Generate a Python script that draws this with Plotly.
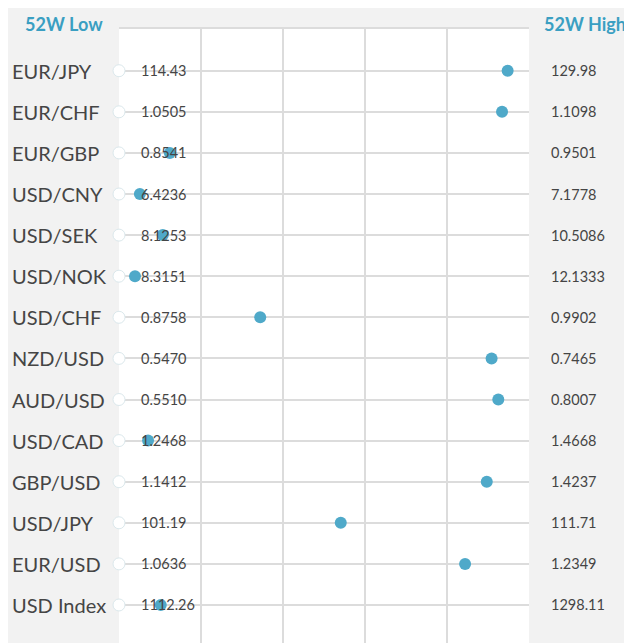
import plotly.graph_objects as go

pairs = ["EUR/JPY", "EUR/CHF", "EUR/GBP", "USD/CNY", "USD/SEK", "USD/NOK", "USD/CHF",
         "NZD/USD", "AUD/USD", "USD/CAD", "GBP/USD", "USD/JPY", "EUR/USD", "USD Index"]
low_52w = [114.43, 1.0505, 0.8541, 6.4236, 8.1253, 8.3151, 0.8758,
           0.5470, 0.5510, 1.2468, 1.1412, 101.19, 1.0636, 1112.26]
high_52w = [129.98, 1.1098, 0.9501, 7.1778, 10.5086, 12.1333, 0.9902,
            0.7465, 0.8007, 1.4668, 1.4237, 111.71, 1.2349, 1298.11]
current = [129.17, 1.1059, 0.8660, 6.462, 8.380, 8.464, 0.9152,
           0.7283, 0.7820, 1.2624, 1.3946, 106.88, 1.2082, 1131.2]
low_labels = ["114.43", "1.0505", "0.8541", "6.4236", "8.1253", "8.3151", "0.8758",
              "0.5470", "0.5510", "1.2468", "1.1412", "101.19", "1.0636", "1112.26"]
high_labels = ["129.98", "1.1098", "0.9501", "7.1778", "10.5086", "12.1333", "0.9902",
               "0.7465", "0.8007", "1.4668", "1.4237", "111.71", "1.2349", "1298.11"]

rows = list(range(len(pairs)))
pct = [(c - l) / (h - l) * 100 for c, l, h in zip(current, low_52w, high_52w)]

# figure is placed at (8, 8) by the page's body margin
W, H = 624, 635
L, R, T, B = 111, 103, 21, 0
pw = W - L - R
ph = H - T - B

def px_to_paper_x(px):
    return (px - L) / pw

grid = "#dcdcdc"
blue = "#4fa9c9"
head = "#3a9fc2"
txt = "#454545"
font = "Lato, 'Open Sans', sans-serif"

fig = go.Figure()
fig.add_trace(go.Scatter(
    x=[0] * len(rows), y=rows, mode="markers",
    marker=dict(size=12, color="white", line=dict(color="#dbe8ec", width=1)),
    hoverinfo="skip", showlegend=False, cliponaxis=False))
fig.add_trace(go.Scatter(
    x=pct, y=rows, mode="markers",
    marker=dict(size=12, color=blue),
    text=pairs, hovertemplate="%{text}<extra></extra>", showlegend=False))

ann = []
for r, name, lo, hi in zip(rows, pairs, low_labels, high_labels):
    ann.append(dict(x=px_to_paper_x(2), xref="paper", y=r, yref="y", text=name,
                    xanchor="left", yanchor="middle", showarrow=False,
                    font=dict(family=font, size=20, color=txt)))
    ann.append(dict(x=4.9, xref="x", y=r, yref="y", text=lo,
                    xanchor="left", yanchor="middle", showarrow=False,
                    font=dict(family=font, size=14.5, color=txt)))
    ann.append(dict(x=px_to_paper_x(541), xref="paper", y=r, yref="y", text=hi,
                    xanchor="left", yanchor="middle", showarrow=False,
                    font=dict(family=font, size=14.5, color=txt)))
ann.append(dict(x=px_to_paper_x(15), xref="paper", y=1 + 5 / ph, yref="paper",
                text="<b>52W Low</b>", xanchor="left", yanchor="middle", showarrow=False,
                font=dict(family=font, size=18, color=head)))
ann.append(dict(x=px_to_paper_x(534), xref="paper", y=1 + 5 / ph, yref="paper",
                text="<b>52W High</b>", xanchor="left", yanchor="middle", showarrow=False,
                font=dict(family=font, size=18, color=head)))

fig.update_layout(
    width=W, height=H,
    margin=dict(l=L, r=R, t=T, b=B, pad=0),
    paper_bgcolor="#f2f2f2", plot_bgcolor="white",
    annotations=ann,
    xaxis=dict(range=[0, 100], tickvals=[0, 20, 40, 60, 80, 100], showticklabels=False,
               showgrid=True, gridcolor=grid, gridwidth=2, zeroline=False,
               showline=True, mirror=True, linecolor=grid, linewidth=2, fixedrange=True),
    yaxis=dict(range=[13.925, -1.015], tickvals=rows, showticklabels=False,
               showgrid=True, gridcolor=grid, gridwidth=2, zeroline=False,
               showline=False, fixedrange=True),
)

fig.write_html("out.html")
